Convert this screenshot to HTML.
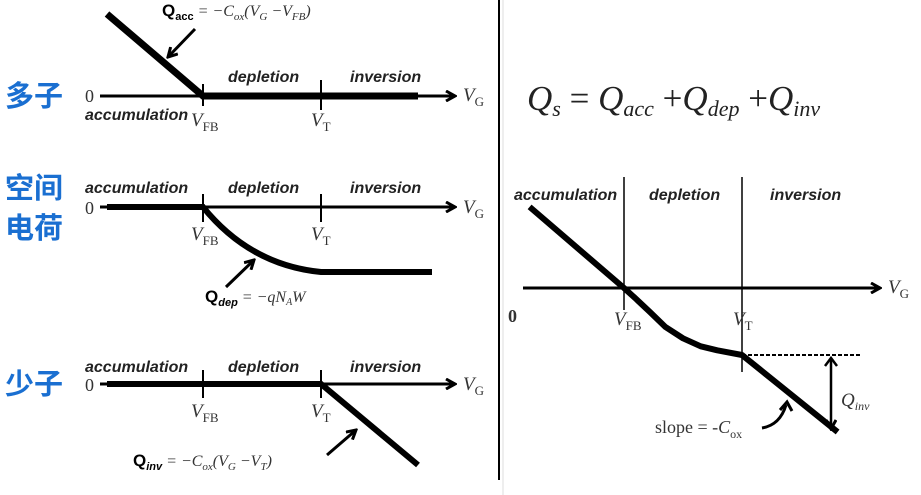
<!DOCTYPE html>
<html><head><meta charset="utf-8"><style>
body{margin:0;background:#fff;width:921px;height:495px;overflow:hidden}
svg{display:block}
.lab{font-family:"Liberation Sans",sans-serif;font-style:italic;font-weight:bold;font-size:16px;fill:#222}
.ser{font-family:"Liberation Serif",serif;fill:#333}
.cjk{font-family:"Liberation Sans","Noto Sans CJK SC",sans-serif;font-weight:bold;font-size:29px;fill:#1a6fd1}
</style></head><body>
<svg id="s" width="921" height="495" viewBox="0 0 921 495" xmlns="http://www.w3.org/2000/svg">
<defs><marker id="ah" markerWidth="12" markerHeight="12" refX="10" refY="6" orient="auto" markerUnits="userSpaceOnUse"><path d="M1,1 L10,6 L1,11" fill="none" stroke="#000" stroke-width="3"/></marker></defs>
<line x1="499" y1="0" x2="499" y2="480" stroke="#000" stroke-width="2"/>
<line x1="503" y1="0" x2="503" y2="495" stroke="#ddd" stroke-width="1"/>

<g>
<text class="cjk" x="5" y="106">多子</text>
<line x1="100" y1="96" x2="455" y2="96" stroke="#000" stroke-width="3" marker-end="url(#ah)"/>
<polyline points="107,14 203,96 418,96" fill="none" stroke="#000" stroke-width="7"/>
<line x1="203" y1="84" x2="203" y2="106" stroke="#000" stroke-width="2"/>
<line x1="321" y1="80" x2="321" y2="110" stroke="#000" stroke-width="2"/>
<text class="ser" x="85" y="102" font-size="18">0</text>
<text class="lab" x="228" y="82">depletion</text>
<text class="lab" x="350" y="82">inversion</text>
<text class="lab" x="85" y="120">accumulation</text>
<text class="ser" x="191" y="126" font-size="19" font-style="italic">V<tspan font-size="13" font-style="normal" dy="5">FB</tspan></text>
<text class="ser" x="311" y="126" font-size="19" font-style="italic">V<tspan font-size="13" font-style="normal" dy="5">T</tspan></text>
<text class="ser" x="463" y="101" font-size="19" font-style="italic">V<tspan font-size="13" font-style="normal" dy="5">G</tspan></text>
<text x="162" y="16"><tspan font-family="Liberation Sans" font-weight="bold" font-size="17">Q</tspan><tspan font-family="Liberation Sans" font-weight="bold" font-size="11" dy="4">acc</tspan><tspan class="ser" font-size="16" font-style="italic" dy="-4"> = −C</tspan><tspan class="ser" font-size="11" font-style="italic" dy="4">ox</tspan><tspan class="ser" font-size="16" font-style="italic" dy="-4">(V</tspan><tspan class="ser" font-size="11" font-style="italic" dy="4">G</tspan><tspan class="ser" font-size="16" font-style="italic" dy="-4"> −V</tspan><tspan class="ser" font-size="11" font-style="italic" dy="4">FB</tspan><tspan class="ser" font-size="16" font-style="italic" dy="-4">)</tspan></text>
<line x1="195" y1="29" x2="168" y2="57" stroke="#000" stroke-width="3" marker-end="url(#ah)"/>
</g>

<g>
<text class="cjk" x="5" y="198">空间</text>
<text class="cjk" x="5" y="238">电荷</text>
<line x1="100" y1="207" x2="455" y2="207" stroke="#000" stroke-width="3" marker-end="url(#ah)"/>
<path d="M107,207 L203,207 Q250,265 321,272 L432,272" fill="none" stroke="#000" stroke-width="6"/>
<line x1="203" y1="194" x2="203" y2="222" stroke="#000" stroke-width="2"/>
<line x1="321" y1="194" x2="321" y2="222" stroke="#000" stroke-width="2"/>
<text class="ser" x="85" y="214" font-size="18">0</text>
<text class="lab" x="85" y="193">accumulation</text>
<text class="lab" x="228" y="193">depletion</text>
<text class="lab" x="350" y="193">inversion</text>
<text class="ser" x="191" y="240" font-size="19" font-style="italic">V<tspan font-size="13" font-style="normal" dy="5">FB</tspan></text>
<text class="ser" x="311" y="240" font-size="19" font-style="italic">V<tspan font-size="13" font-style="normal" dy="5">T</tspan></text>
<text class="ser" x="463" y="213" font-size="19" font-style="italic">V<tspan font-size="13" font-style="normal" dy="5">G</tspan></text>
<text x="205" y="302"><tspan font-family="Liberation Sans" font-weight="bold" font-size="17">Q</tspan><tspan font-family="Liberation Sans" font-weight="bold" font-style="italic" font-size="11" dy="4">dep</tspan><tspan class="ser" font-size="16" font-style="italic" dy="-4"> = −qN</tspan><tspan class="ser" font-size="10" font-style="italic" dy="3">A</tspan><tspan class="ser" font-size="16" font-style="italic" dy="-3">W</tspan></text>
<line x1="226" y1="287" x2="254" y2="260" stroke="#000" stroke-width="3" marker-end="url(#ah)"/>
</g>

<g>
<text class="cjk" x="5" y="394">少子</text>
<line x1="100" y1="384" x2="455" y2="384" stroke="#000" stroke-width="3" marker-end="url(#ah)"/>
<polyline points="107,384 321,384 418,465" fill="none" stroke="#000" stroke-width="6"/>
<line x1="203" y1="370" x2="203" y2="398" stroke="#000" stroke-width="2"/>
<line x1="321" y1="370" x2="321" y2="398" stroke="#000" stroke-width="2"/>
<text class="ser" x="85" y="391" font-size="18">0</text>
<text class="lab" x="85" y="372">accumulation</text>
<text class="lab" x="228" y="372">depletion</text>
<text class="lab" x="350" y="372">inversion</text>
<text class="ser" x="191" y="417" font-size="19" font-style="italic">V<tspan font-size="13" font-style="normal" dy="5">FB</tspan></text>
<text class="ser" x="311" y="417" font-size="19" font-style="italic">V<tspan font-size="13" font-style="normal" dy="5">T</tspan></text>
<text class="ser" x="463" y="390" font-size="19" font-style="italic">V<tspan font-size="13" font-style="normal" dy="5">G</tspan></text>
<text x="133" y="466"><tspan font-family="Liberation Sans" font-weight="bold" font-size="17">Q</tspan><tspan font-family="Liberation Sans" font-weight="bold" font-style="italic" font-size="11" dy="4">inv</tspan><tspan class="ser" font-size="16" font-style="italic" dy="-4"> = −C</tspan><tspan class="ser" font-size="11" font-style="italic" dy="4">ox</tspan><tspan class="ser" font-size="16" font-style="italic" dy="-4">(V</tspan><tspan class="ser" font-size="11" font-style="italic" dy="4">G</tspan><tspan class="ser" font-size="16" font-style="italic" dy="-4"> −V</tspan><tspan class="ser" font-size="11" font-style="italic" dy="4">T</tspan><tspan class="ser" font-size="16" font-style="italic" dy="-4">)</tspan></text>
<line x1="327" y1="455" x2="356" y2="430" stroke="#000" stroke-width="3" marker-end="url(#ah)"/>
</g>

<g>
<text class="ser" x="527" y="110" font-size="35" font-style="italic" style="fill:#222">Q<tspan font-size="22" dy="6">s</tspan><tspan font-style="normal" dy="-6"> = </tspan>Q<tspan font-size="22" dy="6">acc</tspan><tspan font-style="normal" dy="-6"> +</tspan>Q<tspan font-size="22" dy="6">dep</tspan><tspan font-style="normal" dy="-6"> +</tspan>Q<tspan font-size="22" dy="6">inv</tspan></text>
<line x1="523" y1="288" x2="880" y2="288" stroke="#000" stroke-width="3" marker-end="url(#ah)"/>
<line x1="624" y1="177" x2="624" y2="310" stroke="#000" stroke-width="1.5"/>
<line x1="742" y1="177" x2="742" y2="372" stroke="#000" stroke-width="1.5"/>
<text class="lab" x="514" y="200">accumulation</text>
<text class="lab" x="649" y="200">depletion</text>
<text class="lab" x="770" y="200">inversion</text>
<text class="ser" x="508" y="322" font-size="18" font-weight="bold">0</text>
<text class="ser" x="614" y="325" font-size="19" font-style="italic">V<tspan font-size="13" font-style="normal" dy="5">FB</tspan></text>
<text class="ser" x="733" y="325" font-size="19" font-style="italic">V<tspan font-size="13" font-style="normal" dy="5">T</tspan></text>
<text class="ser" x="888" y="293" font-size="19" font-style="italic">V<tspan font-size="13" font-style="normal" dy="5">G</tspan></text>
<path id="qs" fill="none" stroke="#000" stroke-width="6" stroke-linejoin="round"/>
<line x1="742" y1="355" x2="862" y2="355" stroke="#000" stroke-width="2" stroke-dasharray="4,2"/>
<line x1="831" y1="360" x2="831" y2="429" stroke="#000" stroke-width="2.5" marker-end="url(#ah)"/>
<polyline points="825,366 831,358 837,366" fill="none" stroke="#000" stroke-width="2.5"/>
<text class="ser" x="841" y="406" font-size="19" font-style="italic">Q<tspan font-size="12" dy="4">inv</tspan></text>
<text class="ser" x="655" y="433" font-size="18">slope = -<tspan font-style="italic">C</tspan><tspan font-size="12" dy="5">ox</tspan></text>
<path d="M762,428 Q780,425 786,405" fill="none" stroke="#000" stroke-width="3"/>
<polyline points="780,410 787,402 792,411" fill="none" stroke="#000" stroke-width="3"/>
</g>
</svg>
<script>
const vgValues=[0.2,1.0,1.1,1.22,1.35,1.5,1.65,1.79,2.0,2.81];
const qsValues=[1.21,0,-0.16,-0.36,-0.58,-0.75,-0.87,-0.93,-1.0,-2.15];
function xs(v){return 506+v*118;}
function ys(q){return 288-q*67;}
let d='';
for(let i=0;i<vgValues.length;i++){d+=(i?'L':'M')+xs(vgValues[i]).toFixed(1)+','+ys(qsValues[i]).toFixed(1);}
document.getElementById('qs').setAttribute('d',d);
</script>
</body></html>
